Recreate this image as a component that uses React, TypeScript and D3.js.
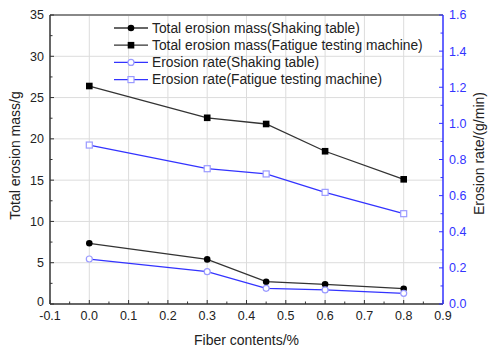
import React from "react";
import * as d3 from "d3";

const fiber = [0.0, 0.3, 0.45, 0.6, 0.8];
const massShaking = [7.35, 5.4, 2.7, 2.38, 1.85];
const massFatigue = [26.4, 22.55, 21.8, 18.5, 15.1];
const rateShaking = [0.249, 0.179, 0.087, 0.078, 0.059];
const rateFatigue = [0.88, 0.749, 0.72, 0.618, 0.5];
const xTicks = [-0.1, 0, 0.1, 0.2, 0.3, 0.4, 0.5, 0.6, 0.7, 0.8, 0.9];
const yLeftTicks = [0, 5, 10, 15, 20, 25, 30, 35];
const yRightTicks = [0, 0.2, 0.4, 0.6, 0.8, 1.0, 1.2, 1.4, 1.6];
const legendLabels = [
  "Total erosion mass(Shaking table)",
  "Total erosion mass(Fatigue testing machine)",
  "Erosion rate(Shaking table)",
  "Erosion rate(Fatigue testing machine)",
];

const W = 488, H = 349;
const L = 50, R = 443, T = 15, B = 304;
const font = "Arial, 'Liberation Sans', sans-serif";
const BLK = "#333";
const BLUE = "#3333ff";
const MK = "#9a9aff";

export default function App() {
  const x = d3.scaleLinear().domain([-0.1, 0.9]).range([L, R]);
  const yl = d3.scaleLinear().domain([0, 35]).range([B, T]);
  const yr = d3.scaleLinear().domain([0, 1.6]).range([B, T]);
  const lineL = d3.line<number>().x((_, i) => x(fiber[i])).y((d) => yl(d));
  const lineR = d3.line<number>().x((_, i) => x(fiber[i])).y((d) => yr(d));

  const xMinor = d3.range(-0.05, 0.9, 0.1);
  const ylMinor = d3.range(2.5, 35, 5);
  const yrMinor = d3.range(0.1, 1.6, 0.2);

  const marker = (kind: string, cx: number, cy: number, key: any) => {
    if (kind === "fc") return <circle key={key} cx={cx} cy={cy} r={3.3} fill="#000" />;
    if (kind === "fs") return <rect key={key} x={cx - 3.3} y={cy - 3.3} width={6.6} height={6.6} fill="#000" />;
    if (kind === "oc") return <circle key={key} cx={cx} cy={cy} r={3} fill="#fff" stroke={MK} strokeWidth={1.2} />;
    return <rect key={key} x={cx - 3} y={cy - 3} width={6} height={6} fill="#fff" stroke={MK} strokeWidth={1.2} />;
  };

  const series = [
    { vals: massShaking, line: lineL, y: yl, color: BLK, mk: "fc" },
    { vals: massFatigue, line: lineL, y: yl, color: BLK, mk: "fs" },
    { vals: rateShaking, line: lineR, y: yr, color: BLUE, mk: "oc" },
    { vals: rateFatigue, line: lineR, y: yr, color: BLUE, mk: "os" },
  ];

  return (
    <svg width={W} height={H} style={{ position: "absolute", left: 0, top: 0, background: "#fff" }} fontFamily={font}>
      <rect width={W} height={H} fill="#fff" />
      {/* grid */}
      {xTicks.slice(1, -1).map((t) => (
        <line key={"gx" + t} x1={x(t)} x2={x(t)} y1={T} y2={B} stroke="#dcdcdc" strokeWidth={1} />
      ))}
      {yLeftTicks.slice(1, -1).map((t) => (
        <line key={"gy" + t} x1={L} x2={R} y1={yl(t)} y2={yl(t)} stroke="#dcdcdc" strokeWidth={1} />
      ))}
      {/* top border */}
      <line x1={L} x2={R} y1={T} y2={T} stroke="#888" strokeWidth={2} />
      {/* series */}
      {series.map((s, si) => (
        <g key={"s" + si}>
          <path d={s.line(s.vals) || ""} fill="none" stroke={s.color} strokeWidth={1.3} />
          {s.vals.map((v, i) => marker(s.mk, x(fiber[i]), s.y(v), i))}
        </g>
      ))}
      {/* left axis */}
      <line x1={L} x2={L} y1={T} y2={B} stroke={BLK} strokeWidth={1.5} />
      {yLeftTicks.map((t) => (
        <g key={"yl" + t}>
          <line x1={L} x2={L + 4} y1={yl(t)} y2={yl(t)} stroke={BLK} />
          <text x={L - 6} y={t === 0 ? yl(t) - 2 : yl(t)} dy="0.35em" textAnchor="end" fontSize={12.5} fill="#222">{t}</text>
        </g>
      ))}
      {ylMinor.map((t) => (
        <line key={"ylm" + t} x1={L} x2={L + 2.5} y1={yl(t)} y2={yl(t)} stroke={BLK} />
      ))}
      {/* bottom axis */}
      <line x1={L} x2={R} y1={B} y2={B} stroke={BLK} strokeWidth={1.5} />
      {xTicks.map((t) => (
        <g key={"xt" + t}>
          <line x1={x(t)} x2={x(t)} y1={B} y2={B - 4} stroke={BLK} />
          <text x={x(t)} y={B + 16} textAnchor="middle" fontSize={12.5} fill="#222">{t.toFixed(1)}</text>
        </g>
      ))}
      {xMinor.map((t) => (
        <line key={"xm" + t} x1={x(t)} x2={x(t)} y1={B} y2={B - 2.5} stroke={BLK} />
      ))}
      {/* right axis */}
      <line x1={R} x2={R} y1={T} y2={B} stroke={BLUE} strokeWidth={1.5} />
      {yRightTicks.map((t) => (
        <g key={"yr" + t}>
          <line x1={R} x2={R - 4} y1={yr(t)} y2={yr(t)} stroke={BLUE} />
          <text x={R + 6} y={yr(t)} dy="0.35em" textAnchor="start" fontSize={12.5} fill={BLUE}>{t.toFixed(1)}</text>
        </g>
      ))}
      {yrMinor.map((t) => (
        <line key={"yrm" + t} x1={R} x2={R - 2.5} y1={yr(t)} y2={yr(t)} stroke={BLUE} />
      ))}
      {/* titles */}
      <text transform={`translate(20,${(T + B) / 2 - 4}) rotate(-90)`} textAnchor="middle" fontSize={14} fill="#222">Total erosion mass/g</text>
      <text transform={`translate(484,${(T + B) / 2 - 6}) rotate(-90)`} textAnchor="middle" fontSize={14} fill="#222">Erosion rate/(g/min)</text>
      <text x={(L + R) / 2} y={345} textAnchor="middle" fontSize={14} fill="#222">Fiber contents/%</text>
      {/* legend */}
      {legendLabels.map((lab, i) => {
        const ly = 28 + i * 17.2;
        const s = series[i];
        return (
          <g key={"lg" + i}>
            <line x1={114} x2={148} y1={ly} y2={ly} stroke={s.color} strokeWidth={1.3} />
            {marker(s.mk, 131, ly, "m")}
            <text x={152} y={ly} dy="0.35em" fontSize={13.8} fill="#222">{lab}</text>
          </g>
        );
      })}
    </svg>
  );
}
